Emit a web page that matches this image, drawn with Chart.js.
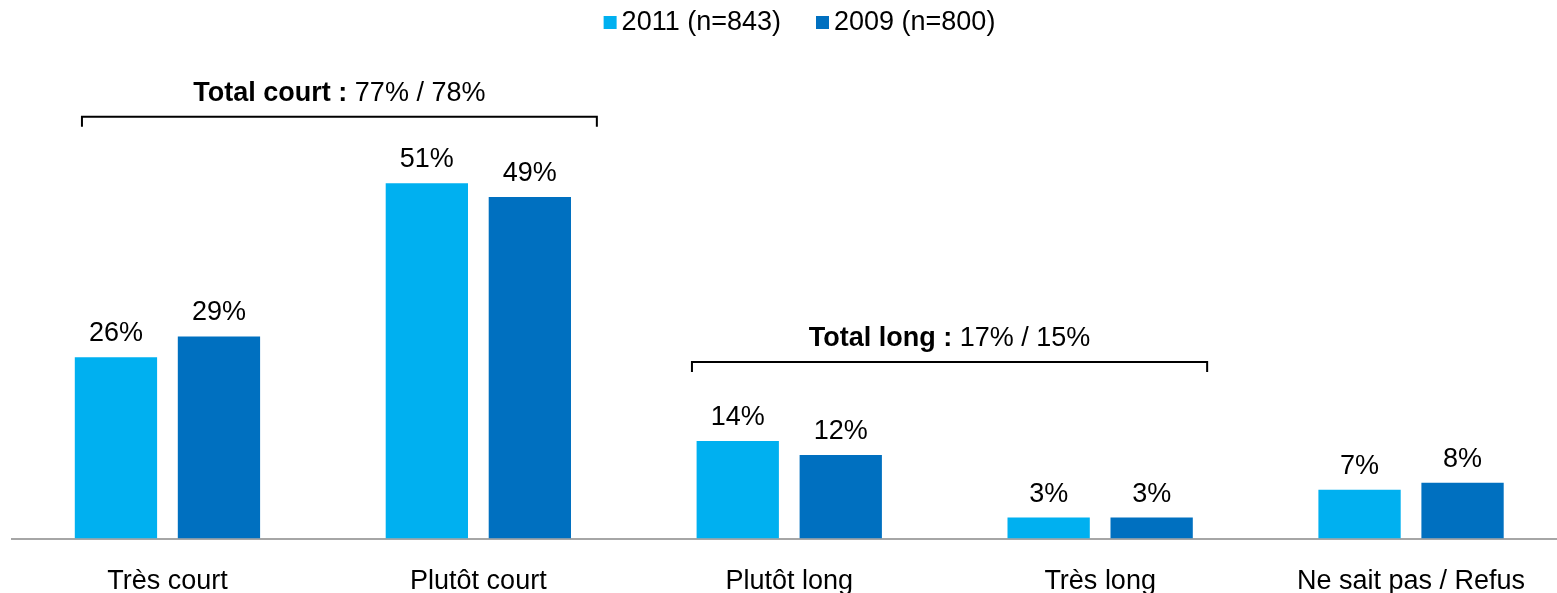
<!DOCTYPE html>
<html>
<head>
<meta charset="utf-8">
<script src="https://cdn.jsdelivr.net/npm/chart.js@4/dist/chart.umd.min.js"></script>
<style>
  html, body { margin: 0; padding: 0; background: #fff; overflow: hidden; }
</style>
</head>
<body>
<canvas id="chart" width="1596" height="593"></canvas>
<script>
const categories = ['Très court', 'Plutôt court', 'Plutôt long', 'Très long', 'Ne sait pas / Refus']
const values2011 = [26, 51, 14, 3, 7]
const values2009 = [29, 49, 12, 3, 8]
const seriesLabels = ['2011 (n=843)', '2009 (n=800)']
const totalTitles = ['Total court :', 'Total long :']
const totalValues = ['77% / 78%', '17% / 15%']
const totalGroups = [[0, 1], [2, 3]]

const FONT = 'Arial, "Liberation Sans", sans-serif'
const SIZE = 27
const colors = ['#00B0F0', '#0070C0']

// value labels above each bar
const barLabels = {
  id: 'barLabels',
  afterDatasetsDraw(chart) {
    const ctx = chart.ctx
    ctx.save()
    ctx.font = `${SIZE}px ${FONT}`
    ctx.fillStyle = '#000'
    ctx.textAlign = 'center'
    ctx.textBaseline = 'alphabetic'
    chart.data.datasets.forEach((ds, di) => {
      chart.getDatasetMeta(di).data.forEach((bar, i) => {
        ctx.fillText(ds.data[i] + '%', bar.x, bar.y - 16)
      })
    })
    ctx.restore()
  }
}

// brackets with totals over groups of categories
const brackets = {
  id: 'brackets',
  afterDraw(chart) {
    const ctx = chart.ctx
    const x = chart.scales.x
    const y = chart.scales.y
    const place = [
      { level: 60.55, left: -85.5, right: 118.5 },
      { level: 25.33, left: -97.3, right: 107 }
    ]
    ctx.save()
    totalGroups.forEach((g, i) => {
      const x1 = x.getPixelForValue(g[0]) + place[i].left
      const x2 = x.getPixelForValue(g[1]) + place[i].right
      const yy = y.getPixelForValue(place[i].level)
      ctx.strokeStyle = '#000'
      ctx.lineWidth = 2
      ctx.beginPath()
      ctx.moveTo(x1, yy + 10)
      ctx.lineTo(x1, yy)
      ctx.lineTo(x2, yy)
      ctx.lineTo(x2, yy + 10)
      ctx.stroke()

      const bold = `bold ${SIZE}px ${FONT}`
      const normal = `${SIZE}px ${FONT}`
      ctx.font = bold
      const w1 = ctx.measureText(totalTitles[i] + ' ').width
      ctx.font = normal
      const w2 = ctx.measureText(totalValues[i]).width
      const tx = (x1 + x2) / 2 - (w1 + w2) / 2
      ctx.fillStyle = '#000'
      ctx.textAlign = 'left'
      ctx.textBaseline = 'alphabetic'
      ctx.font = bold
      ctx.fillText(totalTitles[i] + ' ', tx, yy - 16)
      ctx.font = normal
      ctx.fillText(totalValues[i], tx + w1, yy - 16)
    })
    ctx.restore()
  }
}

// legend at the top with small square boxes
const topLegend = {
  id: 'topLegend',
  afterDraw(chart) {
    const ctx = chart.ctx
    ctx.save()
    ctx.font = `${SIZE}px ${FONT}`
    const box = 13, gap = 5, between = 35
    const widths = chart.data.datasets.map(ds => ctx.measureText(ds.label).width)
    const total = widths.reduce((a, w) => a + box + gap + w, 0) + between * (widths.length - 1)
    let lx = chart.width / 2 - total / 2 + 1.5
    chart.data.datasets.forEach((ds, i) => {
      ctx.fillStyle = ds.backgroundColor
      ctx.fillRect(lx, 16, box, box)
      ctx.fillStyle = '#000'
      ctx.textAlign = 'left'
      ctx.textBaseline = 'alphabetic'
      ctx.fillText(ds.label, lx + box + gap, 30)
      lx += box + gap + widths[i] + between
    })
    ctx.restore()
  }
}

new Chart(document.querySelector('#chart'), {
  type: 'bar',
  data: {
    labels: categories,
    datasets: [
      { label: seriesLabels[0], data: values2011, backgroundColor: colors[0] },
      { label: seriesLabels[1], data: values2009, backgroundColor: colors[1] }
    ]
  },
  options: {
    responsive: false,
    animation: false,
    categoryPercentage: 0.6626,
    barPercentage: 0.799,
    layout: {
      padding: { left: 12, right: 29.5, top: 50.8, bottom: 0 }
    },
    plugins: {
      legend: { display: false },
      tooltip: { enabled: false }
    },
    scales: {
      x: {
        grid: { display: false, drawTicks: false },
        border: { display: true, color: '#A6A6A6', width: 2 },
        ticks: {
          color: '#000',
          padding: 27,
          font: { family: FONT, size: SIZE }
        },
        afterFit(scale) {
          scale.height = 54.5
        }
      },
      y: {
        display: false,
        min: 0,
        max: 70
      }
    }
  },
  plugins: [barLabels, brackets, topLegend]
})
</script>
</body>
</html>
